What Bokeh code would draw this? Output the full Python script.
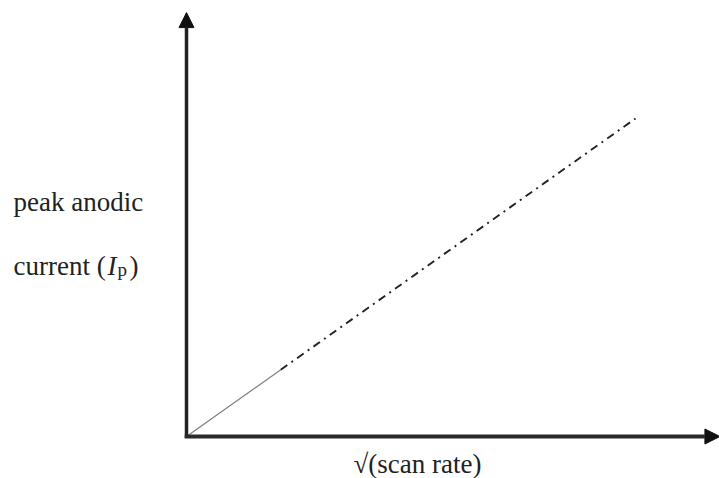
from bokeh.plotting import figure
from bokeh.models import Range1d, Arrow, NormalHead, Label
from bokeh.embed import file_html
from bokeh.resources import INLINE

# Data (arbitrary units: sqrt(scan rate) vs peak anodic current)
solid_x = [0.0, 2.1]
solid_y = [0.0, 2.1]
dashdot_x = [2.1, 10.0]
dashdot_y = [2.1, 10.0]

x_axis_end = 11.88
y_axis_end = 13.33

x_label = "\u221a(scan rate)"
y_label_line1 = "peak anodic"
y_label_line2 = "current ("
y_label_sym = "I"
y_label_sub = "p"
y_label_close = ")"

# pixel scale: x 44.9 px/unit, origin at 186 px; y 31.8 px/unit, origin at 436 px from top
W, H = 719, 478
xs, ys = 44.9, 31.8
ox, oy = 186.0, 436.0

p = figure(width=W, height=H, output_backend="svg", toolbar_location=None,
           x_range=Range1d(-ox / xs, (W - ox) / xs),
           y_range=Range1d(-(H - oy) / ys, oy / ys),
           min_border=0)
p.axis.visible = False
p.grid.visible = False
p.outline_line_color = None
p.background_fill_color = "white"
p.border_fill_color = "white"

# Axes with arrows
p.add_layout(Arrow(end=NormalHead(size=15, fill_color="#111111", line_color="#111111"),
                   x_start=0, y_start=-0.05, x_end=0, y_end=y_axis_end,
                   line_color="#222222", line_width=3.5))
p.add_layout(Arrow(end=NormalHead(size=15, fill_color="#111111", line_color="#111111"),
                   x_start=-0.04, y_start=0, x_end=x_axis_end, y_end=0,
                   line_color="#2a2a2a", line_width=4))

# Lines
p.line(solid_x, solid_y, line_color="#808080", line_width=1.3)
p.line(dashdot_x, dashdot_y, line_color="#222222", line_width=1.9, line_dash="8 5 2 5")

font = "Liberation Serif"
fs = "27px"
dy = 8  # compensation for rendered baseline offset
p.add_layout(Label(x=13, y=H - 209 + dy, x_units="screen", y_units="screen", text=y_label_line1,
                   text_font=font, text_font_size=fs, text_color="#222222",
                   text_baseline="alphabetic"))
p.add_layout(Label(x=13, y=H - 273 + dy, x_units="screen", y_units="screen", text=y_label_line2,
                   text_font=font, text_font_size=fs, text_color="#222222",
                   text_baseline="alphabetic"))
p.add_layout(Label(x=107, y=H - 273 + dy, x_units="screen", y_units="screen", text=y_label_sym,
                   text_font=font, text_font_size=fs, text_font_style="italic",
                   text_color="#222222", text_baseline="alphabetic"))
p.add_layout(Label(x=117, y=H - 277 + dy, x_units="screen", y_units="screen", text=y_label_sub,
                   text_font=font, text_font_size="19px", text_color="#222222",
                   text_baseline="alphabetic"))
p.add_layout(Label(x=129, y=H - 273 + dy, x_units="screen", y_units="screen", text=y_label_close,
                   text_font=font, text_font_size=fs, text_color="#222222",
                   text_baseline="alphabetic"))
p.add_layout(Label(x=353, y=H - 471 + dy, x_units="screen", y_units="screen", text=x_label,
                   text_font=font, text_font_size=fs, text_color="#222222",
                   text_baseline="alphabetic"))

open("out.html", "w").write(file_html(p, INLINE))
